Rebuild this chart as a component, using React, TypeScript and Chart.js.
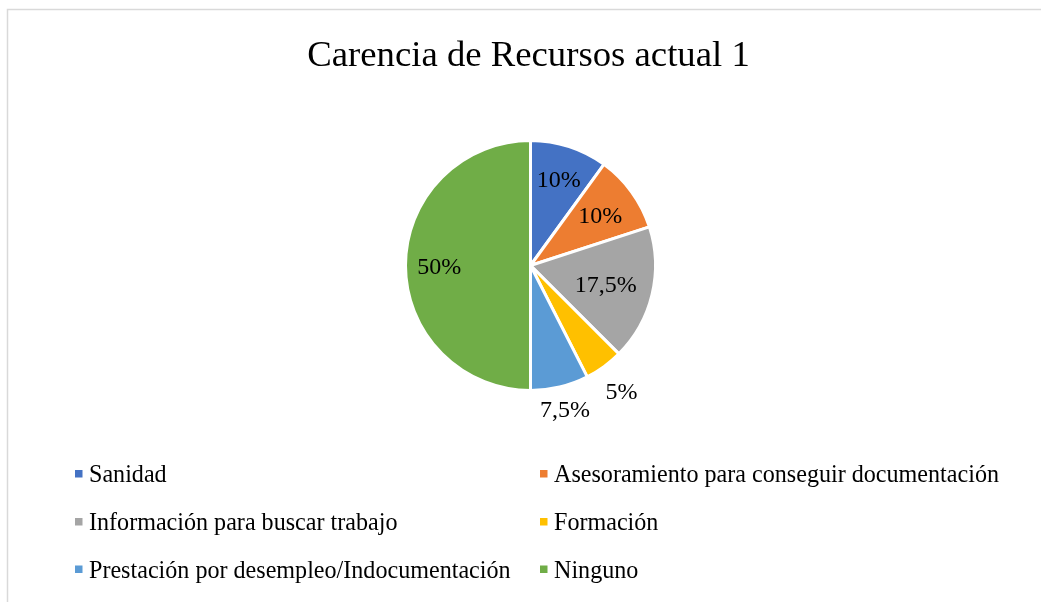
import React, { useEffect, useRef } from "react";
import { Chart, registerables } from "chart.js";

Chart.register(...registerables);

const TITLE = "Carencia de Recursos actual 1";
const CATEGORIES = [
  "Sanidad",
  "Asesoramiento para conseguir documentación",
  "Información para buscar trabajo",
  "Formación",
  "Prestación por desempleo/Indocumentación",
  "Ninguno",
];
const VALUES = [10, 10, 17.5, 5, 7.5, 50];
const VALUE_LABELS = ["10%", "10%", "17,5%", "5%", "7,5%", "50%"];
const COLORS = ["#4472C4", "#ED7D31", "#A5A5A5", "#FFC000", "#5B9BD5", "#70AD47"];

// label distance from center as a fraction of the radius (styling)
const LABEL_DIST = [0.73, 0.69, 0.62, 1.24, 1.18, 0.73];
const FONT = "'Liberation Serif', 'Times New Roman', serif";

function drawText(ctx: any, text: string, x: number, y: number, size: number, sx: number, align: string) {
  ctx.save();
  ctx.font = `${size}px ${FONT}`;
  ctx.textBaseline = "alphabetic";
  ctx.textAlign = align;
  ctx.translate(x, y);
  ctx.scale(sx, 1);
  ctx.fillText(text, 0, 0);
  ctx.restore();
}

const decorPlugin = {
  id: "decor",
  beforeDraw(chart: any) {
    const ctx = chart.ctx;
    ctx.save();
    ctx.fillStyle = "#ffffff";
    ctx.fillRect(0, 0, chart.width, chart.height);
    ctx.strokeStyle = "#d9d9d9";
    ctx.lineWidth = 1.5;
    ctx.beginPath();
    ctx.moveTo(7.5, chart.height);
    ctx.lineTo(7.5, 9.5);
    ctx.lineTo(chart.width, 9.5);
    ctx.stroke();
    ctx.restore();
  },
  afterDraw(chart: any) {
    const ctx = chart.ctx;
    ctx.save();
    ctx.fillStyle = "#000000";
    // title
    drawText(ctx, TITLE, 528.5, 66, 36, 1.02, "center");

    // value labels
    const meta = chart.getDatasetMeta(0);
    meta.data.forEach((arc: any, i: number) => {
      const p = arc.getProps(["x", "y", "startAngle", "endAngle", "outerRadius"], true);
      const mid = (p.startAngle + p.endAngle) / 2;
      const r = p.outerRadius * LABEL_DIST[i];
      const x = p.x + Math.cos(mid) * r;
      const y = p.y + Math.sin(mid) * r;
      ctx.fillStyle = "#000000";
      drawText(ctx, VALUE_LABELS[i], x, y + 8, 24, 1.0, "center");
    });

    // legend (two columns)
    const colX = [75, 540];
    const rowY = [473.5, 521.5, 569];
    CATEGORIES.forEach((name, i) => {
      const cx = colX[i % 2];
      const cy = rowY[Math.floor(i / 2)];
      ctx.fillStyle = COLORS[i];
      ctx.fillRect(cx, cy - 3.5, 7.5, 7.5);
      ctx.fillStyle = "#000000";
      drawText(ctx, name, cx + 14, cy + 8.8, 25.5, 0.945, "left");
    });
    ctx.restore();
  },
};

export default function App() {
  const ref = useRef<HTMLCanvasElement | null>(null);
  useEffect(() => {
    if (!ref.current) return;
    const chart = new Chart(ref.current, {
      type: "pie",
      data: {
        labels: CATEGORIES,
        datasets: [
          {
            data: VALUES,
            backgroundColor: COLORS,
            borderColor: "#ffffff",
            borderWidth: 3,
          },
        ],
      },
      options: {
        responsive: false,
        animation: false,
        devicePixelRatio: 1,
        layout: { padding: { top: 139, bottom: 210, left: 404, right: 384 } },
        plugins: {
          legend: { display: false },
          title: { display: false },
          tooltip: { enabled: false },
        },
      },
      plugins: [decorPlugin],
    });
    return () => chart.destroy();
  }, []);
  return (
    <div style={{ position: "fixed", left: 0, top: 0, width: 1041, height: 602, background: "#fff" }}>
      <canvas ref={ref} width={1041} height={602} style={{ display: "block" }} />
    </div>
  );
}
